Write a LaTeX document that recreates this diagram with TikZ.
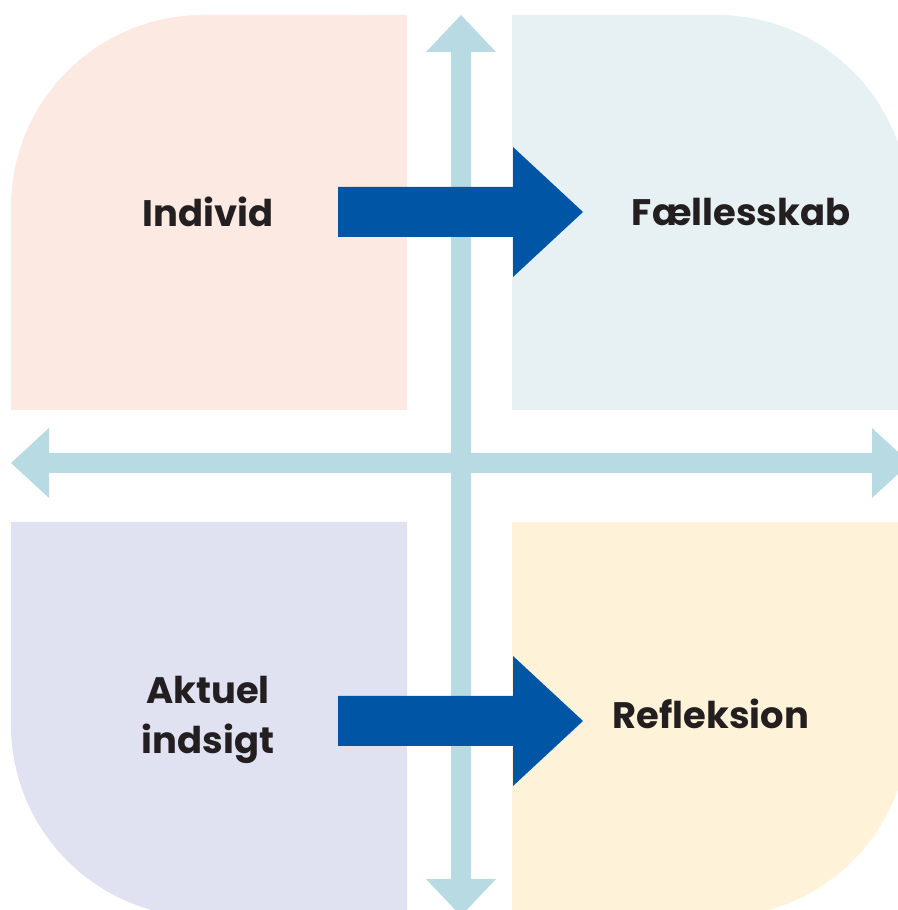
\documentclass[tikz,border=0pt]{standalone}
\usepackage{fontspec}
\setmainfont{Poppins}
\definecolor{individbg}{HTML}{FCE9E2}
\definecolor{faellesbg}{HTML}{E7F1F4}
\definecolor{aktuelbg}{HTML}{E0E2F2}
\definecolor{refleksbg}{HTML}{FEF3D9}
\definecolor{axisblue}{HTML}{B8DBE3}
\definecolor{arrowblue}{HTML}{0055A5}
\definecolor{labelink}{HTML}{231F20}
\def\rad{3.84cm}
\def\xL{11}
\def\xLR{407}
\def\xR{512}
\def\xRR{909}
\def\yTop{895}
\def\yTopLow{500}
\def\yBotHigh{388}
\def\yBot{-7}
\tikzset{quadlabel/.style={font=\bfseries\fontsize{21}{28.5}\selectfont, text=labelink, align=center, inner sep=0pt}}

\begin{document}
\begin{tikzpicture}[x=0.02cm,y=0.02cm]
\useasboundingbox (0,0) rectangle (897,910);

% Quadrants
\fill[individbg] (\xLR,\yTopLow) -- (\xL,\yTopLow) -- (\xL,703) arc[start angle=180,end angle=90,radius=\rad] -- (\xLR,\yTop) -- cycle; % top left
\fill[faellesbg] (\xR,\yTopLow) -- (\xR,\yTop) -- (717,\yTop) arc[start angle=90,end angle=0,radius=\rad] -- (\xRR,\yTopLow) -- cycle; % top right
\fill[aktuelbg] (\xLR,\yBotHigh) -- (\xL,\yBotHigh) -- (\xL,185) arc[start angle=180,end angle=270,radius=\rad] -- (\xLR,\yBot) -- cycle; % bottom left
\fill[refleksbg] (\xR,\yBotHigh) -- (\xRR,\yBotHigh) -- (\xRR,185) arc[start angle=0,end angle=-90,radius=\rad] -- (\xR,\yBot) -- cycle; % bottom right

% Axes
\fill[axisblue] (451,31) -- (451,858) -- (426,858) -- (461,895) -- (496,858) -- (471,858) -- (471,31) -- (496,31) -- (461,-6) -- (426,31) -- cycle; % vertical axis
\fill[axisblue] (49,457) -- (872,457) -- (872,482) -- (910,447) -- (872,412) -- (872,437) -- (49,437) -- (49,412) -- (11,447) -- (49,482) -- cycle; % horizontal axis

% Flow arrows
\foreach \ya in {698,189} {
    \fill[arrowblue] (338,\ya+25) -- (513,\ya+25) -- (513,\ya+65) -- (583,\ya) -- (513,\ya-65) -- (513,\ya-25) -- (338,\ya-25) -- cycle;
}

% Labels
\node[quadlabel] (individ) at (208,698) {Individ};
\node[quadlabel] (faelles) at (741,698) {Fællesskab};
\node[quadlabel] (aktuel) at (208,190) {Aktuel\\indsigt};
\node[quadlabel] (refleks) at (711,196) {Refleksion};

\end{tikzpicture}
\end{document}
